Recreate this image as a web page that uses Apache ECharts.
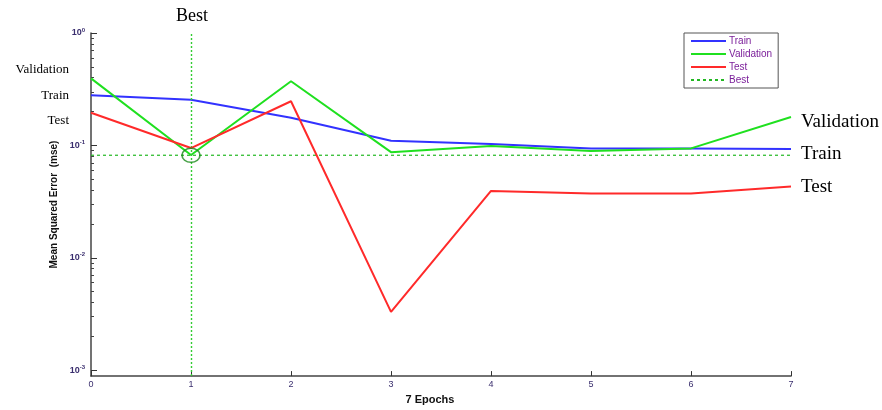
<!DOCTYPE html>
<html>
<head>
<meta charset="utf-8">
<script src="https://cdn.jsdelivr.net/npm/echarts@6/dist/echarts.min.js"></script>
<style>
html,body{margin:0;padding:0;background:#fff;}
#c{width:882px;height:410px;}
</style>
</head>
<body>
<div id="c"></div>
<script>
var epochs = [0, 1, 2, 3, 4, 5, 6, 7];
var trainMse = [0.28, 0.255, 0.176, 0.11, 0.103, 0.094, 0.094, 0.093];
var validationMse = [0.395, 0.082, 0.372, 0.087, 0.0986, 0.089, 0.094, 0.179];
var testMse = [0.195, 0.0947, 0.247, 0.0033, 0.0393, 0.0374, 0.0374, 0.043];
var bestEpoch = 1;
var bestMse = 0.0817;
var yMajorTicks = [0.001, 0.01, 0.1, 1];
var yTickExponents = ['-3', '-2', '-1', '0'];
var seriesNames = ['Train', 'Validation', 'Test', 'Best'];

var yMinorTicks = [];
[0.001, 0.01, 0.1].forEach(function (d) {
  for (var k = 2; k <= 9; k++) yMinorTicks.push(+(d * k).toPrecision(3));
});

function pairs(vals) { return epochs.map(function (e, i) { return [e, vals[i]]; }); }

var chart = echarts.init(document.getElementById('c'), null, {renderer: 'canvas'});
var labelColor = '#3a2e6e';
var serif = '"Liberation Serif", "Times New Roman", serif';
var option = {
  animation: false,
  backgroundColor: '#ffffff',
  grid: {left: 91, right: 91, top: 33, bottom: 28, containLabel: false},
  legend: {
    orient: 'vertical', left: 684, top: 33,
    data: seriesNames,
    itemWidth: 35, itemHeight: 8, itemGap: 3,
    padding: [3, 6, 3, 6],
    borderColor: '#555', borderWidth: 1,
    itemStyle: {opacity: 0},
    textStyle: {color: '#7b1f9a', fontSize: 10, fontFamily: 'Liberation Sans, Arial', padding: [0, 0, 0, -2]}
  },
  xAxis: {
    type: 'value', min: 0, max: 7, interval: 1,
    axisLine: {show: true, lineStyle: {color: '#444', width: 1.5}},
    axisTick: {show: true, inside: true, length: 5, lineStyle: {color: '#333'}},
    axisLabel: {color: labelColor, fontSize: 9, margin: 4, fontFamily: 'Liberation Sans, Arial'},
    splitLine: {show: false},
    name: '7 Epochs', nameLocation: 'middle', nameGap: 11,
    nameTextStyle: {fontWeight: 'bold', fontSize: 11, color: '#111', fontFamily: 'Liberation Sans, Arial', padding: [0, 22, 0, 0]}
  },
  yAxis: [{
    type: 'log', logBase: 10, min: 0.000885, max: 1,
    axisLine: {show: true, onZero: false, lineStyle: {color: '#444', width: 1.5}},
    axisTick: {show: true, inside: true, length: 6, customValues: yMajorTicks, lineStyle: {color: '#333'}},
    axisLabel: {
      customValues: yMajorTicks, margin: 6,
      formatter: function (v) {
        var i = yMajorTicks.indexOf(v);
        if (i < 0) { for (var j = 0; j < yMajorTicks.length; j++) if (Math.abs(yMajorTicks[j] - v) / yMajorTicks[j] < 1e-6) i = j; }
        return '{b|10}{s|' + (i >= 0 ? yTickExponents[i] : '') + '}';
      },
      rich: {
        b: {fontSize: 9, fontWeight: 'bold', color: labelColor, fontFamily: 'Liberation Sans, Arial'},
        s: {fontSize: 6, fontWeight: 'bold', color: labelColor, verticalAlign: 'bottom', padding: [0, 0, 6, 0], fontFamily: 'Liberation Sans, Arial'}
      }
    },
    splitLine: {show: false},
    name: 'Mean Squared Error  (mse)', nameLocation: 'middle', nameGap: 32,
    nameTextStyle: {fontWeight: 'bold', fontSize: 10, color: '#111', fontFamily: 'Liberation Sans, Arial'}
  }, {
    type: 'log', logBase: 10, min: 0.000885, max: 1, position: 'left',
    axisLine: {show: false},
    axisTick: {show: true, inside: true, length: 3, customValues: yMinorTicks, lineStyle: {color: '#444'}},
    axisLabel: {show: false},
    splitLine: {show: false}
  }],
  series: [
    {name: 'Train', type: 'line', data: pairs(trainMse), symbol: 'none', lineStyle: {color: '#3232ff', width: 2}, itemStyle: {color: '#3232ff'}, z: 3},
    {name: 'Validation', type: 'line', data: pairs(validationMse), symbol: 'none', lineStyle: {color: '#1fe01f', width: 2}, itemStyle: {color: '#1fe01f'}, z: 4},
    {name: 'Test', type: 'line', data: pairs(testMse), symbol: 'none', lineStyle: {color: '#ff2a2a', width: 2}, itemStyle: {color: '#ff2a2a'}, z: 5},
    {name: 'Best', type: 'line', data: [[epochs[0], bestMse], [epochs[epochs.length - 1], bestMse]], symbol: 'none',
      lineStyle: {color: '#22b822', width: 1.2, type: [3, 3]}, itemStyle: {color: '#22b822'}, z: 2,
      markLine: {silent: true, symbol: 'none', label: {show: false},
        lineStyle: {color: '#33cc33', width: 1.4, type: [2, 2]},
        emphasis: {disabled: true},
        data: [{xAxis: bestEpoch}]}
    },
    {name: 'BestPoint', type: 'scatter', data: [[bestEpoch, bestMse]], symbol: 'circle', symbolSize: [18, 14],
      itemStyle: {color: 'rgba(0,0,0,0)', borderColor: '#1a8a1a', borderWidth: 1.5}, z: 6}
  ],
  graphic: [
    {type: 'text', left: 176, top: 7, style: {text: 'Best', font: '18px ' + serif, fill: '#000'}},
    {type: 'text', right: 882 - 69, top: 63, style: {text: 'Validation', font: '13px ' + serif, fill: '#000'}},
    {type: 'text', right: 882 - 69, top: 89, style: {text: 'Train', font: '13px ' + serif, fill: '#000'}},
    {type: 'text', right: 882 - 69, top: 114, style: {text: 'Test', font: '13px ' + serif, fill: '#000'}},
    {type: 'text', left: 801, top: 113, style: {text: 'Validation', font: '19px ' + serif, fill: '#000'}},
    {type: 'text', left: 801, top: 145, style: {text: 'Train', font: '19px ' + serif, fill: '#000'}},
    {type: 'text', left: 801, top: 178, style: {text: 'Test', font: '19px ' + serif, fill: '#000'}}
  ]
};
chart.setOption(option);
</script>
</body>
</html>
